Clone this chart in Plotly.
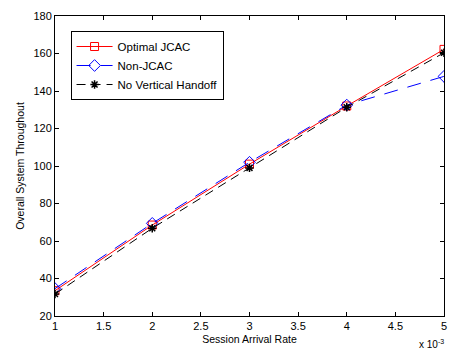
import plotly.graph_objects as go

x_vals = [1, 2, 3, 4, 5]
optimal_jcac = [33.5, 68.5, 101, 132, 162.2]
non_jcac = [34.6, 69.4, 102, 132.5, 147.8]
no_vh = [31.7, 66.8, 99, 131.3, 160.4]
x_ticks = [1, 1.5, 2, 2.5, 3, 3.5, 4, 4.5, 5]
y_ticks = [20, 40, 60, 80, 100, 120, 140, 160, 180]

FONT = "Liberation Sans, Arial"

fig = go.Figure()
fig.add_trace(go.Scatter(x=x_vals, y=optimal_jcac, name="Optimal JCAC", mode="lines+markers",
                         line=dict(color="red", width=1),
                         marker=dict(symbol="square-open", size=8, color="red", line=dict(width=1))))
fig.add_trace(go.Scatter(x=x_vals, y=non_jcac, name="Non-JCAC", mode="lines+markers",
                         line=dict(color="blue", width=1, dash="14px,10px"),
                         marker=dict(symbol="diamond-open", size=9, color="blue", line=dict(width=1))))
fig.add_trace(go.Scatter(x=x_vals, y=no_vh, name="No Vertical Handoff", mode="lines+markers",
                         line=dict(color="black", width=1, dash="9px,6px"),
                         marker=dict(symbol="asterisk-open", size=7, color="black", line=dict(width=1.5))))

axis_common = dict(showgrid=False, zeroline=False, showline=True, linecolor="black", linewidth=1,
                   mirror="ticks", ticks="inside", ticklen=4, tickcolor="black",
                   ticklabeloverflow="allow",
                   tickfont=dict(family=FONT, size=11, color="black"))

fig.update_xaxes(range=[1, 5], tickvals=x_ticks, ticktext=[str(v) for v in x_ticks],
                 title=dict(text="Session Arrival Rate", font=dict(family=FONT, size=10.5, color="black"), standoff=4),
                 **axis_common)
fig.update_yaxes(range=[20, 180], tickvals=y_ticks,
                 title=dict(text="Overall System Throughout", font=dict(family=FONT, size=10.5, color="black"), standoff=6),
                 **axis_common)

fig.add_annotation(x=1, y=0, xref="paper", yref="paper", xanchor="right", yanchor="top",
                   yshift=-20, xshift=2, showarrow=False,
                   text="x 10<sup>-3</sup>", font=dict(family=FONT, size=10, color="black"))

fig.update_layout(width=450, height=350, margin=dict(l=55, r=3, t=16, b=34),
                  paper_bgcolor="white", plot_bgcolor="white",
                  legend=dict(x=0.04, y=0.95, xanchor="left", yanchor="top",
                              bgcolor="white", bordercolor="black", borderwidth=1,
                              font=dict(family=FONT, size=11.5, color="black"),
                              tracegroupgap=0, itemwidth=36),
                  showlegend=True)

fig.write_html("out.html", config={"displayModeBar": False},
               post_script="document.body.style.margin='0';document.body.style.overflow='hidden';")
